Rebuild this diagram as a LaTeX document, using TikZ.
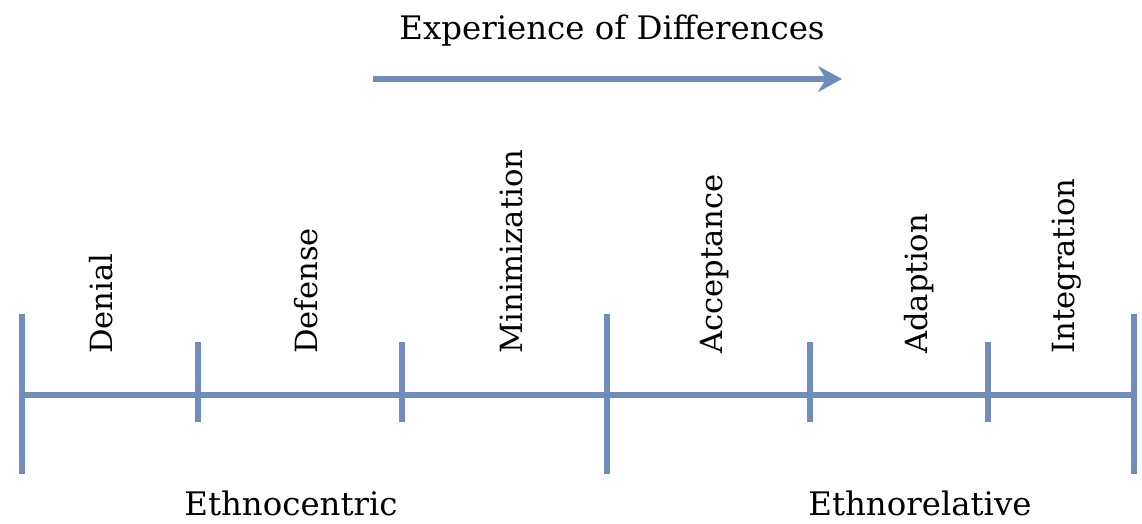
\documentclass[tikz,border=0pt]{standalone}
\usepackage{fontspec}
\setmainfont{DejaVu Serif}
\usetikzlibrary{arrows.meta}
\definecolor{axisblue}{RGB}{112,140,186}
\tikzset{every picture/.style={line width=0.75pt}}
\tikzset{
  axisline/.style={color=axisblue, line width=2.8pt},
  stagelabel/.style={rotate=90, anchor=west, inner sep=0.75pt, font=\fontsize{15.3}{18}\selectfont},
  grouplabel/.style={inner sep=0.75pt, font=\fontsize{16.2}{19}\selectfont}
}

\begin{document}
\begin{tikzpicture}[x=0.5pt,y=0.5pt,yscale=-1,xscale=1]
    \useasboundingbox (0,0) rectangle (1142,524);

    % Coordinates of the scale
    \coordinate (axL) at (22,395);
    \coordinate (axR) at (1134,395);
    \coordinate (arS) at (373,79);
    \coordinate (arE) at (842,79);

    %Straight Lines: main axis
    \draw [axisline] (axL) -- (axR);
    %Straight Lines: long ticks
    \foreach \tx in {22,607,1134} {
      \draw [axisline] (\tx,314) -- (\tx,474);
    }
    %Straight Lines: short ticks
    \foreach \tx in {198,402,810,988} {
      \draw [axisline] (\tx,342) -- (\tx,422);
    }
    %Straight Lines: arrow
    \draw [axisline, -{Stealth[length=12pt,width=13pt,inset=4pt]}] (arS) -- (arE);

    % Text Node
    \node (exp) [grouplabel] at (612,31) {Experience of Differences};
    % Text Node
    \node (denial) [stagelabel] at (101,356) {Denial};
    \node (defense) [stagelabel] at (306,356) {Defense};
    \node (minim) [stagelabel] at (511,356) {Minimization};
    \node (accept) [stagelabel] at (715,356) {Acceptance};
    \node (adapt) [stagelabel] at (919,356) {Adaption};
    \node (integr) [stagelabel] at (1067,356) {Integration};
    % Text Node
    \node (ethnoc) [grouplabel] at (291,503) {Ethnocentric};
    \node (ethnor) [grouplabel] at (920,503) {Ethnorelative};

\end{tikzpicture}
\end{document}
